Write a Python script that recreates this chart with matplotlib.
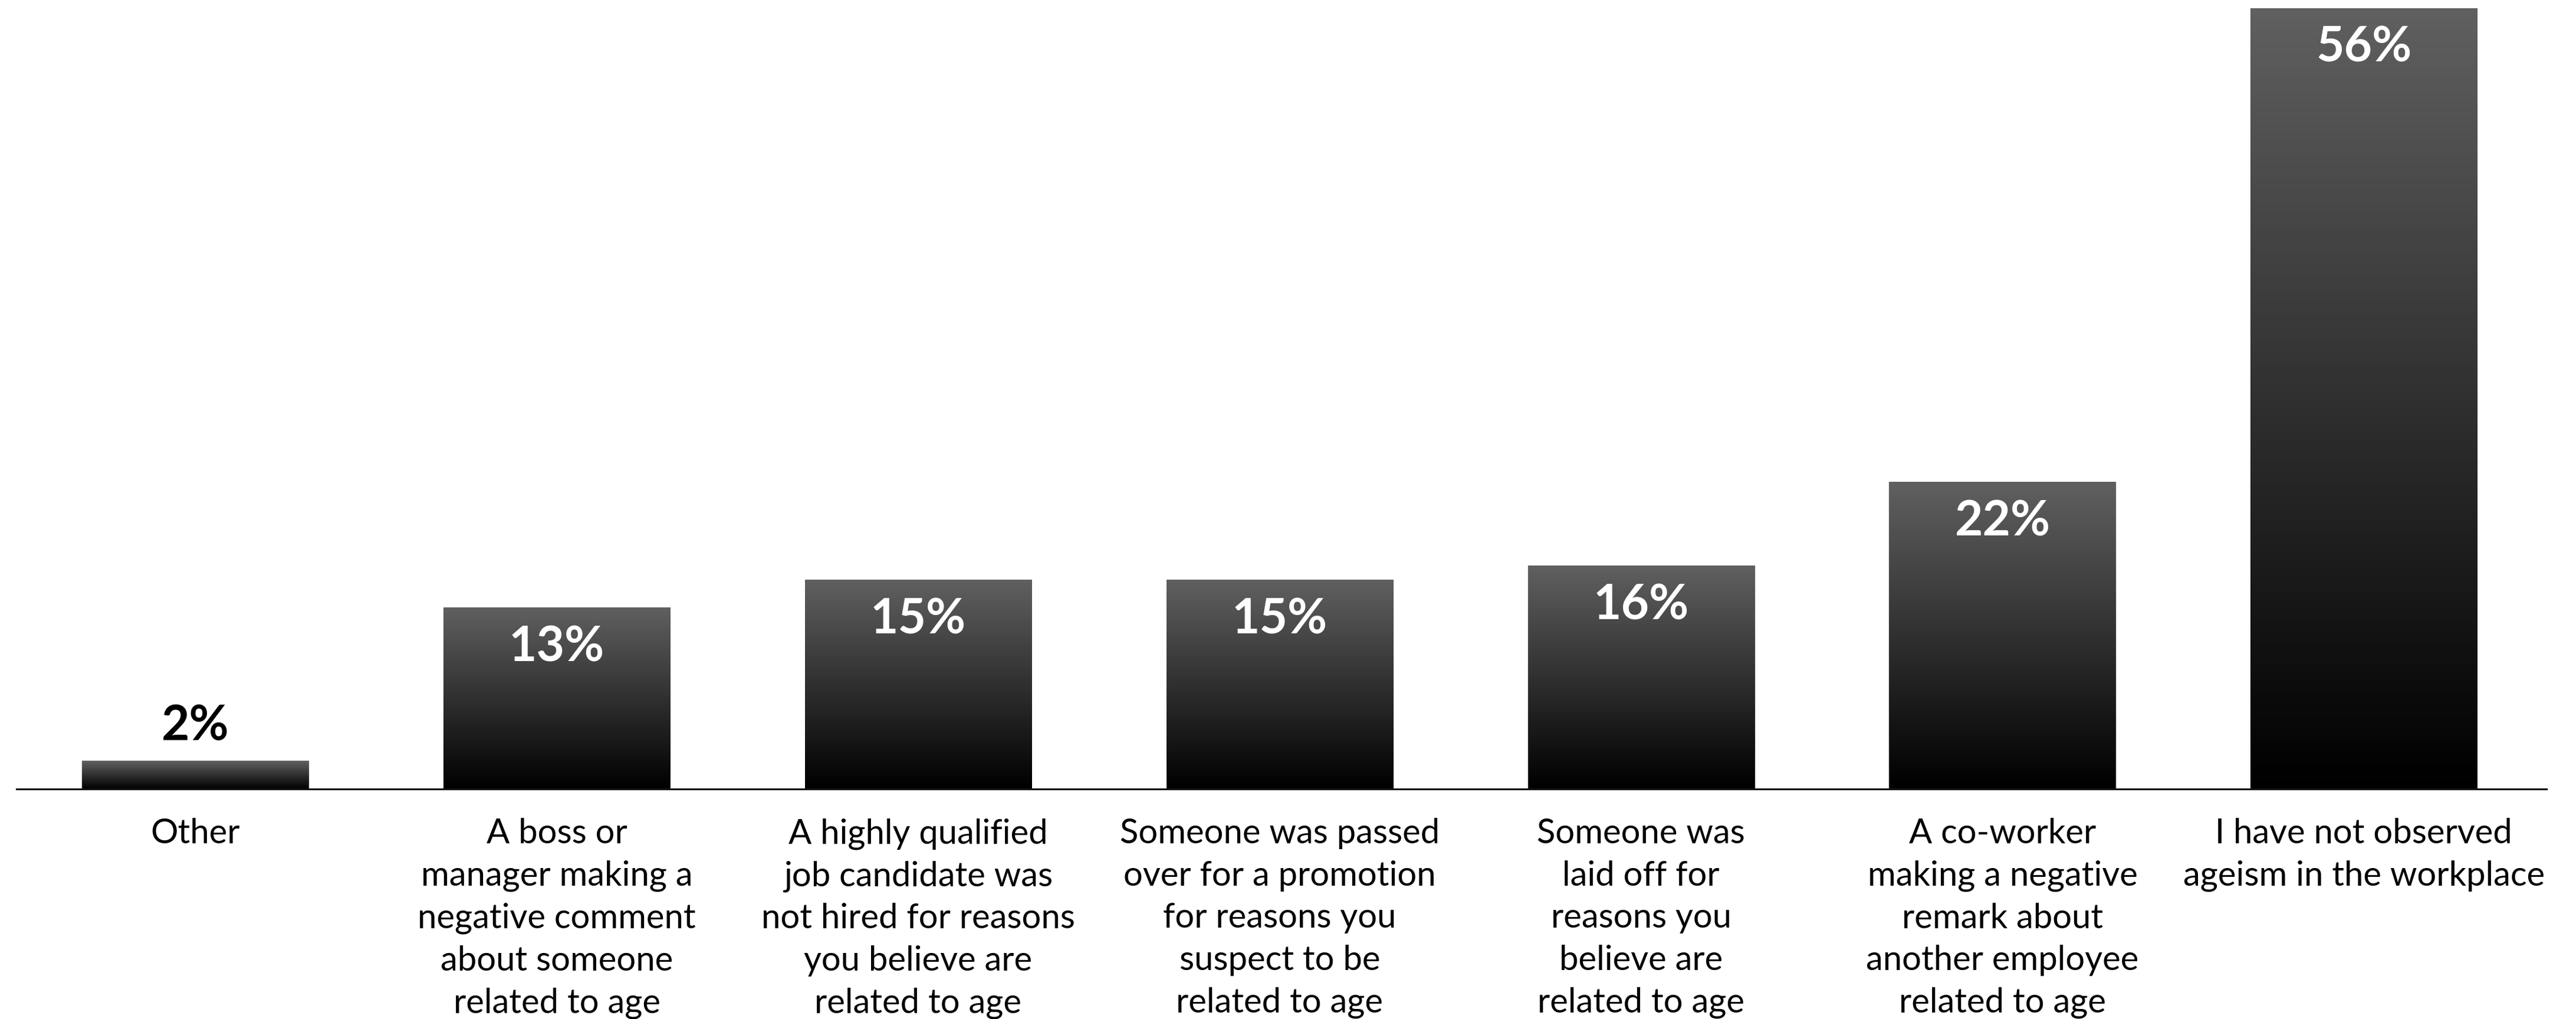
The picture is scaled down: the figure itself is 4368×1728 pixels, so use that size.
import numpy as np
import matplotlib
matplotlib.use("Agg")
import matplotlib.pyplot as plt
from matplotlib.colors import LinearSegmentedColormap

plt.rcParams['font.family'] = ['Lato', 'DejaVu Sans']

categories = [
    "Other",
    "A boss or\nmanager making a\nnegative comment\nabout someone\nrelated to age",
    "A highly qualified\njob candidate was\nnot hired for reasons\nyou believe are\nrelated to age",
    "Someone was passed\nover for a promotion\nfor reasons you\nsuspect to be\nrelated to age",
    "Someone was\nlaid off for\nreasons you\nbelieve are\nrelated to age",
    "A co-worker\nmaking a negative\nremark about\nanother employee\nrelated to age",
    "I have not observed\nageism in the workplace",
]
values = [2, 13, 15, 15, 16, 22, 56]

fig = plt.figure(figsize=(43.68, 17.28), dpi=100)
ax = fig.add_axes([10 / 1568, 140 / 620, 1540 / 1568, 475 / 620])

x = np.arange(len(values))
width = 0.627

# grey-to-black fade inside every bar
fade = LinearSegmentedColormap.from_list("fade", ["#000000", "#606060"])
grad = np.linspace(0, 1, 256).reshape(-1, 1)
bars = ax.bar(x, values, width=width, color="none", edgecolor="none")
for b in bars:
    x0 = b.get_x()
    ax.imshow(grad, cmap=fade, origin="lower", aspect="auto",
              extent=[x0, x0 + b.get_width(), 0, b.get_height()], zorder=2,
              interpolation="bicubic")

ax.set_xlim(-0.495, 6.505)
ax.set_ylim(0, 56)

for xi, v in zip(x, values):
    if v < 5:
        ax.text(xi, v + 1.5, f"{v}%", ha="center", va="baseline", fontsize=59,
                fontweight="bold", color="black", zorder=3)
    else:
        ax.text(xi, v - 3.85, f"{v}%", ha="center", va="baseline", fontsize=59,
                fontweight="bold", color="white", zorder=3)

for xi, lab in zip(x, categories):
    ax.text(xi, -2.1, lab, ha="center", va="top", fontsize=41.8,
            linespacing=1.43, color="black", clip_on=False)

for s in ["top", "right", "left"]:
    ax.spines[s].set_visible(False)
ax.spines["bottom"].set_linewidth(2.2)
ax.spines["bottom"].set_color("#111111")
ax.spines["bottom"].set_zorder(4)
ax.set_xticks([])
ax.set_yticks([])

fig.savefig("out.png", dpi=100, facecolor="white")
